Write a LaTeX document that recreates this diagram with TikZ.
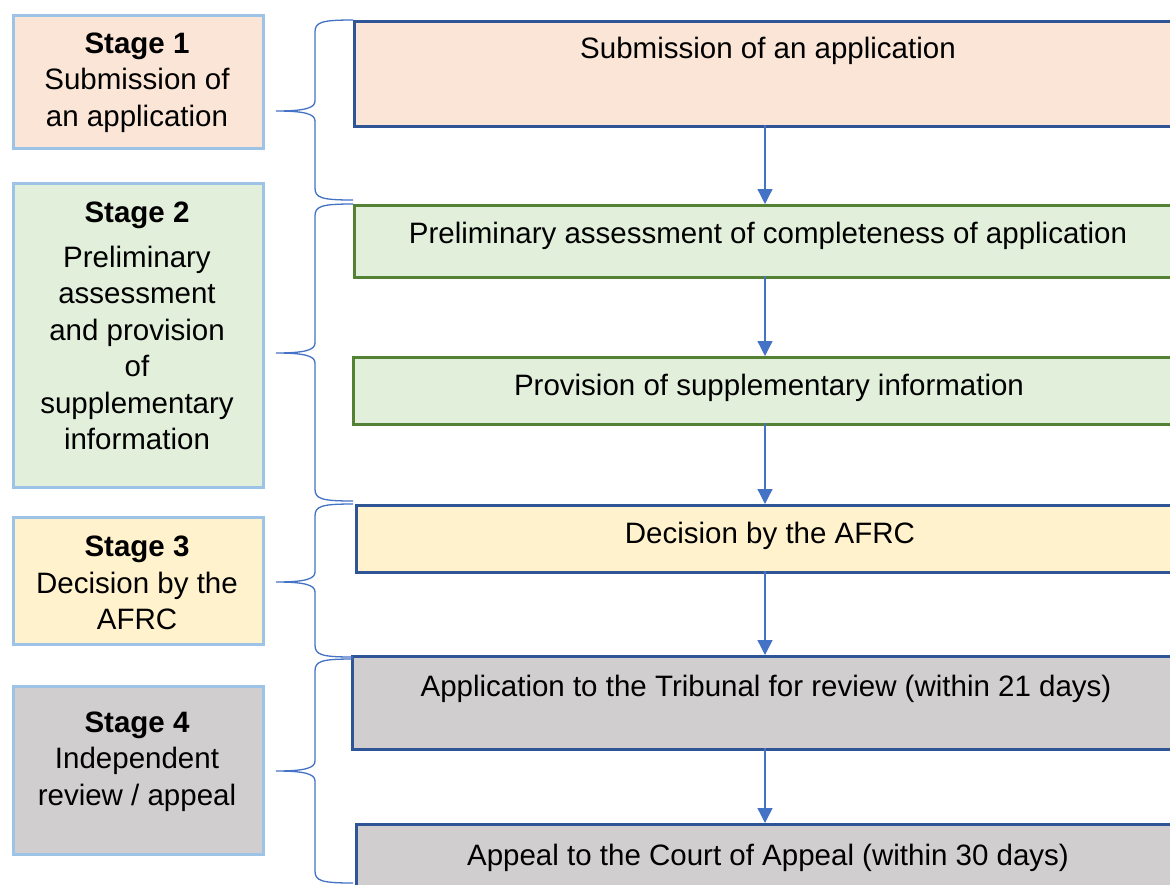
\documentclass[tikz,border=0pt]{standalone}
\usepackage{fontspec}
\setmainfont{Liberation Sans}
\usetikzlibrary{arrows.meta}
\definecolor{peach}{HTML}{FBE5D6}
\definecolor{lgreen}{HTML}{E2EFDA}
\definecolor{dgreen}{HTML}{548235}
\definecolor{lyellow}{HTML}{FFF2CC}
\definecolor{lgray}{HTML}{D0CECE}
\definecolor{dblue}{HTML}{2F5597}
\definecolor{lblue}{HTML}{9DC3E6}
\definecolor{mblue}{HTML}{4472C4}
\tikzset{
  bigfont/.style={font=\fontsize{29.5}{36.5}\selectfont},
  stagebox/.style={draw=lblue, line width=2.6pt, anchor=north west, inner sep=0pt, minimum width=250pt},
  flowbox/.style={draw=dblue, line width=2.5pt, anchor=north west, inner sep=0pt, minimum width=832pt},
  stagetxt/.style={bigfont, align=center, inner sep=0pt},
  flowtxt/.style={bigfont, anchor=base, inner sep=0pt},
  flowarrow/.style={draw=mblue, line width=1.3pt, -{Triangle[length=15pt,width=15pt]}},
  bracestyle/.style={draw=mblue, line width=1.3pt}
}
\newcommand{\stagebrace}[3]{%
  \draw[bracestyle] (353,#1) .. controls (322,#1) and (315,#1+2) .. (315,#1+12)
    -- (315,#2-10) .. controls (315,#2-3) and (305,#2) .. (276,#2)
    .. controls (305,#2) and (315,#2+3) .. (315,#2+10)
    -- (315,#3-12) .. controls (315,#3-2) and (322,#3) .. (353,#3);}
\begin{document}
\begin{tikzpicture}[x=1pt,y=-1pt]
\clip (0,0) rectangle (1170,884);
\fill[white] (0,0) rectangle (1170,884);

% stage boxes (left)
\node[stagebox, fill=peach, minimum height=133pt] (s1) at (12,14) {};
\node[stagebox, fill=lgreen, minimum height=304pt] (s2) at (12,182) {};
\node[stagebox, fill=lyellow, minimum height=127pt] (s3) at (12,516) {};
\node[stagebox, fill=lgray, minimum height=168pt] (s4) at (12,685) {};

\node[stagetxt] (s1t) at (137,82.5) {\textbf{Stage 1}\\Submission of\\an application};
\node[stagetxt] (s2t) at (137,326) {\textbf{Stage 2}\\[8pt]Preliminary\\assessment\\and provision\\of\\supplementary\\information};
\node[stagetxt] (s3t) at (137,583) {\textbf{Stage 3}\\Decision by the\\AFRC};
\node[stagetxt] (s4t) at (137,761.5) {\textbf{Stage 4}\\Independent\\review / appeal};

% flow boxes (right)
\node[flowbox, fill=peach, minimum height=105pt] (b1) at (353,20) {};
\node[flowbox, fill=lgreen, draw=dgreen, minimum height=72pt] (b2) at (353,204) {};
\node[flowbox, fill=lgreen, draw=dgreen, minimum height=67pt] (b3) at (352,356) {};
\node[flowbox, fill=lyellow, minimum height=67pt] (b4) at (355,504) {};
\node[flowbox, fill=lgray, minimum height=93pt] (b5) at (351,655) {};
\node[flowbox, fill=lgray, minimum height=80pt] (b6) at (355,823) {};

\node[flowtxt] (b1t) at (768,58) {Submission of an application};
\node[flowtxt] (b2t) at (768,243) {Preliminary assessment of completeness of application};
\node[flowtxt] (b3t) at (769,395) {Provision of supplementary information};
\node[flowtxt] (b4t) at (770,543) {Decision by the AFRC};
\node[flowtxt] (b5t) at (766,696) {Application to the Tribunal for review (within 21 days)};
\node[flowtxt] (b6t) at (768,865) {Appeal to the Court of Appeal (within 30 days)};

% arrows
\coordinate (a1s) at (765,125); \coordinate (a1e) at (765,204);
\coordinate (a2s) at (765,276); \coordinate (a2e) at (765,356);
\coordinate (a3s) at (765,423); \coordinate (a3e) at (765,504);
\coordinate (a4s) at (765,571); \coordinate (a4e) at (765,655);
\coordinate (a5s) at (765,748); \coordinate (a5e) at (765,823);
\draw[flowarrow] (a1s) -- (a1e);
\draw[flowarrow] (a2s) -- (a2e);
\draw[flowarrow] (a3s) -- (a3e);
\draw[flowarrow] (a4s) -- (a4e);
\draw[flowarrow] (a5s) -- (a5e);

% braces
\stagebrace{20}{111}{200}
\stagebrace{204}{353}{501}
\stagebrace{504}{582}{657}
\stagebrace{659}{771}{883}
\end{tikzpicture}
\end{document}
